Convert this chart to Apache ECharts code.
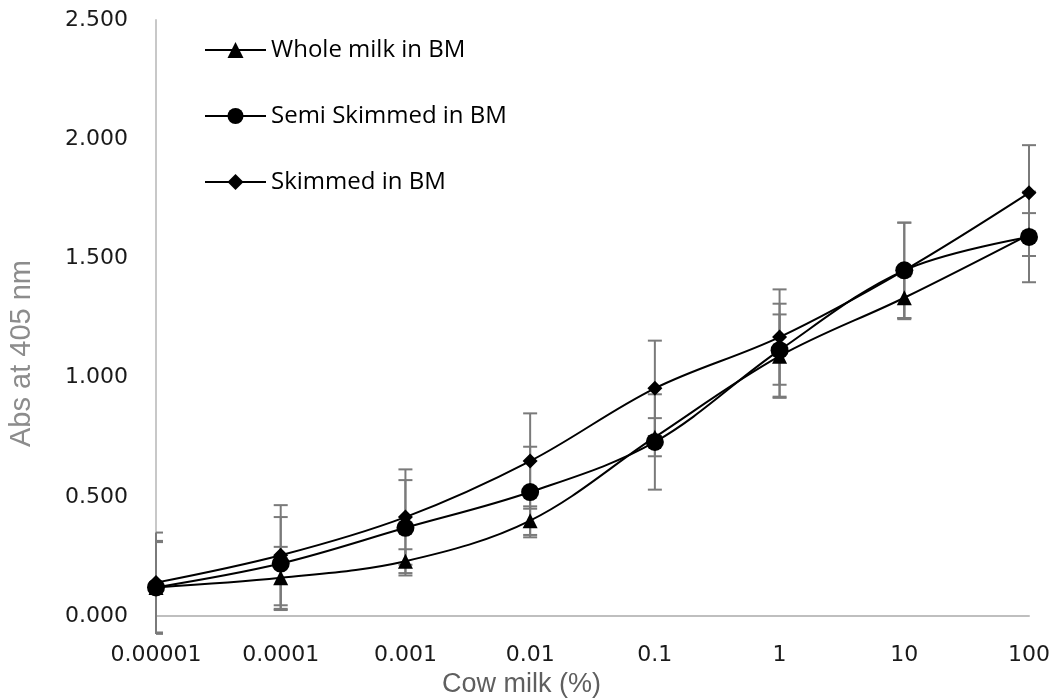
<!DOCTYPE html>
<html>
<head>
<meta charset="utf-8">
<script src="https://cdn.jsdelivr.net/npm/echarts@6/dist/echarts.min.js"></script>
<style>html,body{margin:0;padding:0;background:#fff;}#c{width:1053px;height:700px;}</style>
</head>
<body>
<div id="c"></div>
<script>
const categories = ['0.00001', '0.0001', '0.001', '0.01', '0.1', '1', '10', '100'];
const wholeMilk = [0.12, 0.16, 0.23, 0.40, 0.75, 1.09, 1.335, 1.60];
const semiSkimmed = [0.12, 0.22, 0.37, 0.52, 0.73, 1.115, 1.45, 1.59];
const skimmed = [0.14, 0.255, 0.415, 0.65, 0.955, 1.17, 1.45, 1.775];
const wholeErr = [0.195, 0.13, 0.05, 0.06, 0.08, 0.175, 0.09, 0.09];
const semiErr = [0.19, 0.195, 0.20, 0.19, 0.20, 0.195, 0.20, 0.19];
const skimErr = [0.21, 0.21, 0.20, 0.20, 0.20, 0.20, 0.20, 0.20];
const seriesNames = ['Whole milk in BM', 'Semi Skimmed in BM', 'Skimmed in BM'];
const xTitle = 'Cow milk (%)';
const yTitle = 'Abs at 405 nm';

const chart = echarts.init(document.getElementById('c'));

function errData(vals, errs) {
  return vals.map((v, i) => [i, v - errs[i], v + errs[i]]);
}
function errSeries(vals, errs) {
  return {
    type: 'custom',
    clip: false,
    z: 1,
    silent: true,
    data: errData(vals, errs),
    renderItem: function (params, api) {
      const x = api.value(0);
      const lo = api.coord([x, api.value(1)]);
      const hi = api.coord([x, api.value(2)]);
      const half = 7;
      const minX = params.coordSys.x;
      const l = Math.max(lo[0] - half, minX);
      const style = { stroke: '#7a7a7a', lineWidth: 2 };
      return {
        type: 'group',
        children: [
          { type: 'line', shape: { x1: lo[0], y1: lo[1], x2: hi[0], y2: hi[1] }, style: style },
          { type: 'line', shape: { x1: l, y1: hi[1], x2: hi[0] + half, y2: hi[1] }, style: style },
          { type: 'line', shape: { x1: l, y1: lo[1], x2: lo[0] + half, y2: lo[1] }, style: style }
        ]
      };
    }
  };
}
function lineSeries(name, vals, symbol, size) {
  return {
    name: name,
    type: 'line',
    data: vals,
    smooth: 0.35,
    symbol: symbol,
    symbolSize: size,
    z: 3,
    lineStyle: { color: '#000', width: 2 },
    itemStyle: { color: '#000', borderWidth: 0 }
  };
}

chart.setOption({
  animation: false,
  backgroundColor: '#fff',
  grid: { left: 156, right: 22, top: 20, bottom: 84, containLabel: false },
  legend: {
    orient: 'vertical',
    left: 204,
    top: 38,
    padding: 0,
    itemWidth: 61,
    itemHeight: 20,
    itemGap: 42,
    data: seriesNames,
    textStyle: { fontFamily: 'Open Sans', fontSize: 24, color: '#000' }
  },
  graphic: [
    {
      type: 'text',
      left: 442,
      top: 671,
      style: { text: xTitle, font: '27px "Liberation Sans"', fill: '#5f5f5f' }
    },
    {
      type: 'text',
      x: 7,
      y: 447,
      rotation: Math.PI / 2,
      style: { text: yTitle, font: '29px "Liberation Sans"', fill: '#8c8c8c', align: 'left', verticalAlign: 'top' },
      originX: 0, originY: 0
    }
  ],
  xAxis: {
    type: 'category',
    data: categories,
    boundaryGap: false,
    axisLine: { lineStyle: { color: '#bfbfbf', width: 2 } },
    axisTick: { show: false },
    axisLabel: { fontFamily: 'DejaVu Sans', fontSize: 22, color: '#1a1a1a', margin: 28 },
    splitLine: { show: false }
  },
  yAxis: {
    type: 'value',
    min: 0,
    max: 2.5,
    interval: 0.5,
    axisLine: { show: true, lineStyle: { color: '#c8c8c8', width: 2 } },
    axisTick: { show: false },
    axisLabel: {
      fontFamily: 'DejaVu Sans', fontSize: 22, color: '#1a1a1a', margin: 28,
      formatter: v => v.toFixed(3)
    },
    splitLine: { show: false }
  },
  series: [
    errSeries(wholeMilk, wholeErr),
    errSeries(semiSkimmed, semiErr),
    errSeries(skimmed, skimErr),
    lineSeries(seriesNames[0], wholeMilk, 'triangle', 15),
    lineSeries(seriesNames[1], semiSkimmed, 'circle', 18),
    lineSeries(seriesNames[2], skimmed, 'diamond', 15)
  ]
});
</script>
</body>
</html>
